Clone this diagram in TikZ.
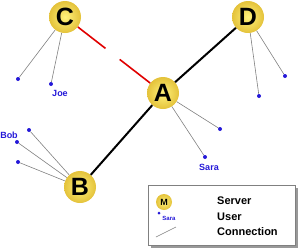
\documentclass[tikz,border=0pt]{standalone}
\usepackage{fontspec}
\setmainfont{Liberation Sans}
\usetikzlibrary{positioning, shadows}
\definecolor{srvlight}{HTML}{FFF27C}
\definecolor{srvdark}{HTML}{E4C23A}
\definecolor{usrblue}{HTML}{2418D8}
\definecolor{linkred}{HTML}{E00000}

\begin{document}
\begin{tikzpicture}[x=1pt, y=-1pt,
  srv/.style={
    circle, shade, inner color=srvlight, outer color=srvdark,
    minimum size=32pt, inner sep=0pt, font=\fontsize{25}{25}\selectfont\bfseries},
  usr/.style={circle, fill=usrblue, minimum size=4pt, inner sep=0pt},
  uname/.style={text=usrblue, font=\fontsize{9}{9}\selectfont\bfseries, inner sep=0pt},
  trunk/.style={line width=2pt, black},
  broken/.style={line width=1.6pt, linkred, dash pattern=on 35pt off 18pt on 60pt},
  conn/.style={line width=0.6pt, gray},
  lgd/.style={font=\fontsize{11}{11}\selectfont\bfseries, anchor=west, inner sep=0pt},
]
  \useasboundingbox (0,0) rectangle (300,250);

  % servers
  \node[srv] (c) at (65,17)  {C};
  \node[srv] (d) at (248,17) {D};
  \node[srv] (a) at (163,93) {A};
  \node[srv] (b) at (80,187) {B};

  % users
  \node[usr] (c1) at (18,79)   {};
  \node[usr] (c2) at (51,84)   {};
  \node[usr] (d1) at (259,96)  {};
  \node[usr] (d2) at (285,76)  {};
  \node[usr] (a1) at (220,129) {};
  \node[usr] (a2) at (205,157) {};
  \node[usr] (b1) at (29,130)  {};
  \node[usr] (b2) at (17,142)  {};
  \node[usr] (b3) at (18,162)  {};

  \node[uname] (joe)  at (60,93)   {Joe};
  \node[uname] (bob)  at (9,135)   {Bob};
  \node[uname] (sara) at (209,167) {Sara};

  % server links
  \draw[broken] (c) -- (a);
  \draw[trunk] (a) -- (d);
  \draw[trunk] (a) -- (b);

  % user connections
  \foreach \s/\u in {c/c1, c/c2, d/d1, d/d2, a/a1, a/a2, b/b1, b/b2, b/b3}
    \draw[conn] (\s) -- (\u);

  % legend
  \node[draw=gray, fill=white,
        drop shadow={shadow xshift=3pt, shadow yshift=-3pt, fill=gray!80, opacity=1},
        minimum width=147pt, minimum height=60pt, inner sep=0pt] (lgdbox) at (221.5,215) {};
  \node[srv, minimum size=16pt, font=\fontsize{9}{9}\selectfont\bfseries] (m) at (164,202) {M};
  \node[usr, minimum size=3pt] (lu) at (159,213) {};
  \node[uname, font=\fontsize{6}{6}\selectfont\bfseries] (lsara) at (169,218) {Sara};
  \coordinate (l0) at (156,237);
  \coordinate (l1) at (176,227);
  \draw[conn] (l0) -- (l1);
  \node[lgd] (tsrv) at (217,201) {Server};
  \node[lgd] (tusr) at (217,217) {User};
  \node[lgd] (tcon) at (217,232) {Connection};
\end{tikzpicture}
\end{document}
